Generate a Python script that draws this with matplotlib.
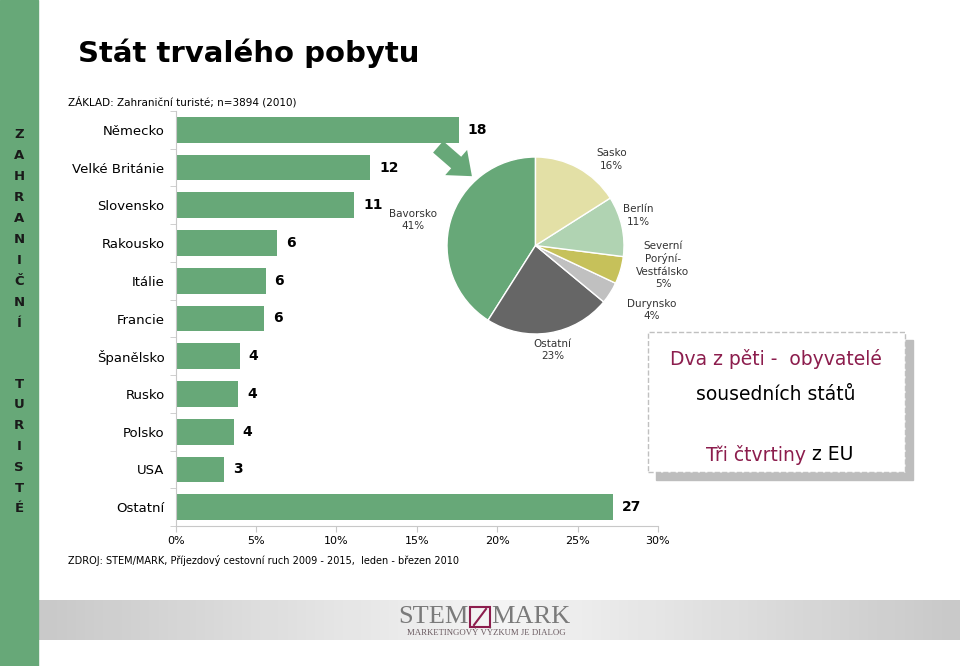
import numpy as np
import matplotlib.pyplot as plt
from matplotlib.patches import Rectangle, FancyArrowPatch
from matplotlib.colors import LinearSegmentedColormap

# Data
countries = ["Německo", "Velké Británie", "Slovensko", "Rakousko", "Itálie", "Francie",
             "Španělsko", "Rusko", "Polsko", "USA", "Ostatní"]
shares = [17.6, 12.1, 11.1, 6.3, 5.6, 5.5, 4.0, 3.9, 3.6, 3.0, 27.2]
share_labels = ["18", "12", "11", "6", "6", "6", "4", "4", "4", "3", "27"]

regions = ["Bavorsko", "Ostatní", "Durynsko", "Severní\nPorýní-\nVestfálsko", "Berlín", "Sasko"]
region_pct = [41, 23, 4, 5, 11, 16]

GREEN = "#67a878"
MAROON = "#8c1d4d"
W, H = 960, 666


def fx(x):
    return x / W


def fy(y):
    return 1 - y / H


plt.rcParams["font.family"] = ["DejaVu Sans"]
fig = plt.figure(figsize=(9.6, 6.66), dpi=100)

# left green strip with vertical text
fig.patches.append(Rectangle((0, 0), fx(38), 1, transform=fig.transFigure,
                             color=GREEN, zorder=0))
for i, ch in enumerate("ZAHRANIČNÍ"):
    fig.text(fx(19), fy(135 + i * 20.9), ch, ha="center", va="center",
             fontsize=9.5, fontweight="bold", color="#1a1a1a")
for i, ch in enumerate("TURISTÉ"):
    fig.text(fx(19), fy(384 + i * 20.8), ch, ha="center", va="center",
             fontsize=9.5, fontweight="bold", color="#1a1a1a")

# titles
fig.text(fx(78), fy(53), "Stát trvalého pobytu", fontsize=21, fontweight="bold",
         va="center", ha="left")
fig.text(fx(68), fy(102), "ZÁKLAD: Zahraniční turisté; n=3894 (2010)", fontsize=7.5,
         va="center", ha="left")
fig.text(fx(68), fy(561), "ZDROJ: STEM/MARK, Příjezdový cestovní ruch 2009 - 2015,  leden - březen 2010",
         fontsize=7, va="center", ha="left")

# bar chart
ax = fig.add_axes([fx(175.7), fy(526), fx(658) - fx(175.7), fy(111) - fy(526)])
y = np.arange(len(countries))
ax.barh(y, shares, height=0.68, color=GREEN)
for yi, v, lab in zip(y, shares, share_labels):
    ax.text(v + 0.55, yi, lab, va="center", ha="left", fontsize=10, fontweight="bold")
ax.set_xlim(0, 30)
ax.set_ylim(len(countries) - 0.5, -0.5)
ax.set_yticks(y)
ax.set_yticklabels(countries, fontsize=9.5)
ax.set_yticks(np.arange(-0.5, len(countries), 1), minor=True)
ax.tick_params(axis="y", which="major", length=0, pad=8)
ax.tick_params(axis="y", which="minor", length=4, color="#c8c8c8")
ax.set_xticks(np.arange(0, 31, 5))
ax.set_xticklabels([f"{t}%" for t in range(0, 31, 5)], fontsize=8)
ax.tick_params(axis="x", length=4, color="#c8c8c8", pad=3)
for s in ["top", "right"]:
    ax.spines[s].set_visible(False)
for s in ["left", "bottom"]:
    ax.spines[s].set_color("#c8c8c8")
ax.patch.set_alpha(0)

# pie chart
r_px = 88.5
cx, cy = 535.5, 245.5
pax = fig.add_axes([fx(cx - r_px), fy(cy + r_px), 2 * r_px / W, 2 * r_px / H])
pie_colors = [GREEN, "#666666", "#c0c0c0", "#c6c15a", "#b0d3b2", "#e3e0a6"]
pax.pie(region_pct, colors=pie_colors, startangle=90, counterclock=True,
        wedgeprops=dict(edgecolor="white", linewidth=1))
pax.set_xlim(-1, 1)
pax.set_ylim(-1, 1)
label_pos = [(-1.38, 0.29), (0.19, -1.18), (1.31, -0.73), (1.44, -0.22), (1.16, 0.34), (0.86, 0.97)]
for name, p, (lx, ly) in zip(regions, region_pct, label_pos):
    pax.text(lx, ly, f"{name}\n{p}%", ha="center", va="center", fontsize=7.5,
             color="#333333", linespacing=1.3, clip_on=False)

# arrow from Německo bar to pie
arrow = FancyArrowPatch((fx(436), fy(145)), (fx(474), fy(178)), transform=fig.transFigure,
                        arrowstyle="simple,head_length=0.75,head_width=1.2,tail_width=0.55",
                        mutation_scale=20, color=GREEN, lw=0)
fig.patches.append(arrow)

# text box with shadow
fig.patches.append(Rectangle((fx(656), fy(480)), fx(913) - fx(656), fy(340) - fy(480),
                             transform=fig.transFigure, color="#bdbdbd", zorder=1))
fig.patches.append(Rectangle((fx(648), fy(472)), fx(905) - fx(648), fy(332) - fy(472),
                             transform=fig.transFigure, facecolor="white",
                             edgecolor="#c0c0c0", linestyle="--", lw=1, zorder=2))
fig.text(fx(776), fy(359), "Dva z pěti -  obyvatelé", color=MAROON, fontsize=13.5,
         ha="center", va="center", zorder=3)
fig.text(fx(776), fy(395), "sousedních států", color="black", fontsize=13.5,
         ha="center", va="center", zorder=3)
fig.text(fx(806), fy(455), "Tři čtvrtiny", color=MAROON, fontsize=13.5,
         ha="right", va="center", zorder=3)
fig.text(fx(812), fy(455), "z EU", color="black", fontsize=13.5,
         ha="left", va="center", zorder=3)

# bottom band with logo
bax = fig.add_axes([fx(39), fy(640), 1 - fx(39), fy(600) - fy(640)])
grad = np.concatenate([np.linspace(0, 1, 50), np.linspace(1, 0, 50)])[None, :]
band_cmap = LinearSegmentedColormap.from_list("band", ["#c9c9c9", "#f4f4f4"])
bax.imshow(grad, aspect="auto", cmap=band_cmap, extent=[0, 1, 0, 1])
bax.set_axis_off()
fig.text(fx(469), fy(617), "STEM", fontsize=19, color="#7a7a7a", ha="right", va="center",
         family="Liberation Serif")
fig.text(fx(491), fy(617), "MARK", fontsize=19, color="#7a7a7a", ha="left", va="center",
         family="Liberation Serif")
fig.patches.append(Rectangle((fx(470), fy(627)), fx(490) - fx(470), fy(607) - fy(627),
                             transform=fig.transFigure, facecolor="none",
                             edgecolor=MAROON, lw=1.5, zorder=3))
fig.lines.append(plt.Line2D([fx(474), fx(486)], [fy(625), fy(609)], transform=fig.transFigure,
                            color=MAROON, lw=1.5))
fig.text(fx(486), fy(633), "MARKETINGOVÝ VÝZKUM JE DIALOG", fontsize=6.3, color="#6a5a60",
         ha="center", va="center", family="Liberation Serif")

plt.savefig("out.png", dpi=100)
